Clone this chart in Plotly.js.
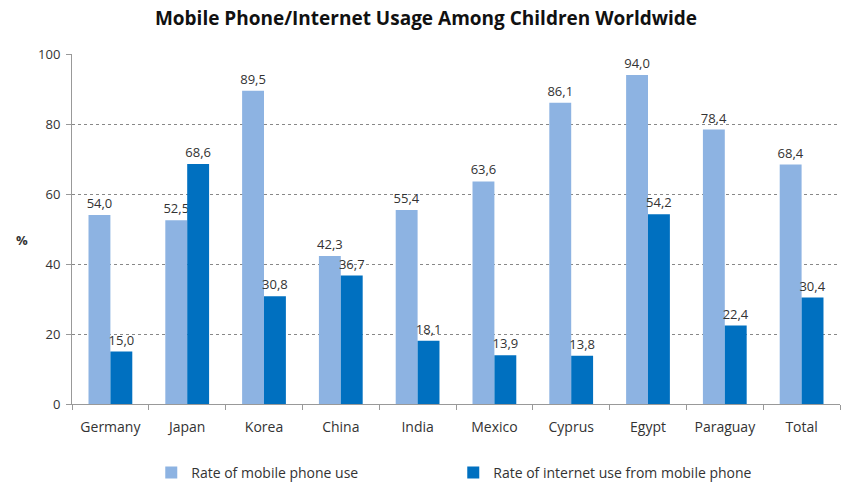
<!DOCTYPE html>
<html>
<head>
<meta charset="utf-8">
<script src="https://cdn.plot.ly/plotly-3.0.1.min.js"></script>
<style>html,body{margin:0;padding:0;background:#fff;}#chart{width:852px;height:484px;}</style>
</head>
<body>
<div id="chart"></div>
<script>
const categories = ["Germany","Japan","Korea","China","India","Mexico","Cyprus","Egypt","Paraguay","Total"];
const mobileUse = [54.0,52.5,89.5,42.3,55.4,63.6,86.1,94.0,78.4,68.4];
const internetUse = [15.0,68.6,30.8,36.7,18.1,13.9,13.8,54.2,22.4,30.4];
const seriesNames = ["Rate of mobile phone use","Rate of internet use from mobile phone"];
const yTicks = [0,20,40,60,80,100];

const font = "Open Sans, DejaVu Sans, sans-serif";
const traces = [
  {type:"bar", name:seriesNames[0], x:categories, y:mobileUse, marker:{color:"#8DB3E2"},
   texttemplate:"%{y:.1f}", textposition:"outside", constraintext:"none", cliponaxis:false, textfont:{size:13,color:"#333"}},
  {type:"bar", name:seriesNames[1], x:categories, y:internetUse, marker:{color:"#0070C0"},
   texttemplate:"%{y:.1f}", textposition:"outside", constraintext:"none", cliponaxis:false, textfont:{size:13,color:"#333"}}
];
const layout = {
  width:852, height:484,
  margin:{l:72,r:12,t:54,b:80},
  separators:", ",
  font:{family:font,size:13,color:"#333"},
  title:{text:"<b>Mobile Phone/Internet Usage Among Children Worldwide</b>", x:0.5, xanchor:"center", y:0.963, yanchor:"middle",
         font:{size:19,color:"#111",family:font}},
  barmode:"group", bargap:0.43, bargroupgap:0,
  showlegend:true,
  legend:{orientation:"h", x:0.532, xref:"container", xanchor:"center", y:0.023, yref:"container", yanchor:"middle",
          font:{size:14}, entrywidth:257, itemwidth:30},
  xaxis:{automargin:false, showline:true, linecolor:"#999", ticks:"outside", tickson:"boundaries", ticklen:5, tickcolor:"#999",
         showgrid:false, ticklabelstandoff:10, tickfont:{size:14}},
  yaxis:{automargin:false, range:[0,100], tickvals:yTicks, showline:true, linecolor:"#999", ticks:"outside", ticklen:5, tickcolor:"#999",
         showgrid:true, gridcolor:"#888", griddash:"dot", gridwidth:1, zeroline:false, ticklabelstandoff:3},
  annotations:[{text:"<b>%</b>", xref:"paper", yref:"paper", x:-0.075, y:0.47, showarrow:false, font:{size:13}}]
};
Plotly.newPlot("chart", traces, layout, {displayModeBar:false, staticPlot:true});
</script>
</body>
</html>
